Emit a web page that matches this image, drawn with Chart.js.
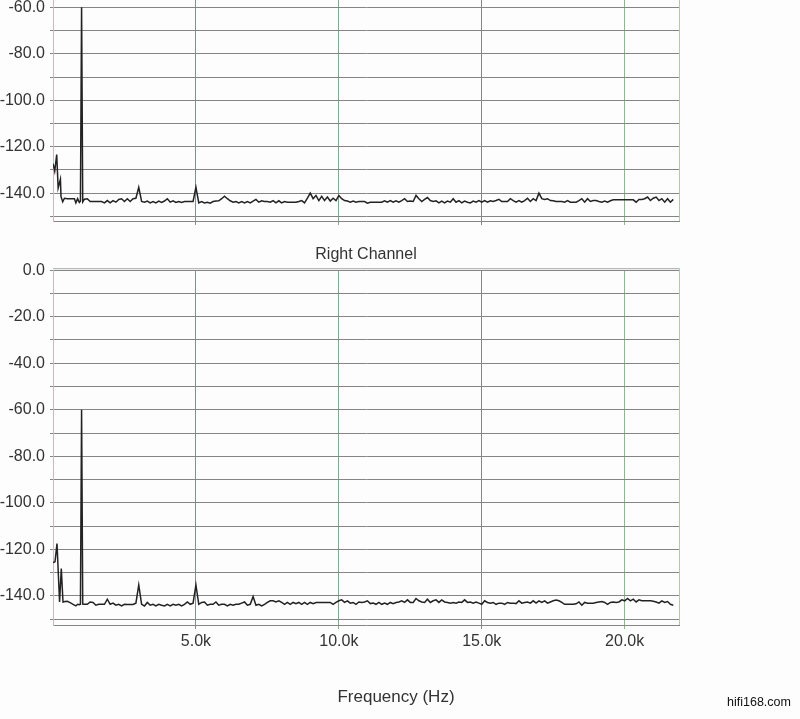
<!DOCTYPE html>
<html>
<head>
<meta charset="utf-8">
<title>FFT - Left / Right Channel</title>
<script src="https://cdn.jsdelivr.net/npm/chart.js@4.4.1/dist/chart.umd.min.js"></script>
<style>
  html, body { margin: 0; padding: 0; width: 800px; height: 719px; overflow: hidden; background: #fdfdfd; }
  body { position: relative; font-family: "Liberation Sans", Arial, Helvetica, sans-serif; color: #333; }
  #leftChart { position: absolute; left: 0; top: -153px; }
  #rightChart { position: absolute; left: 0; top: 240px; }
  #xTitle { position: absolute; left: 296px; width: 200px; top: 688px; text-align: center; font-size: 17px; line-height: 17px; }
  #mark { position: absolute; left: 727px; top: 695px; font-size: 12.5px; line-height: 14px; color: #111; }
</style>
</head>
<body>
<canvas id="leftChart" width="800" height="389"></canvas>
<canvas id="rightChart" width="800" height="479"></canvas>
<div id="xTitle">Frequency (Hz)</div>
<div id="mark">hifi168.com</div>

<script>
// axis ranges
const freqMinK = 0;
const freqMaxK = 21.9;
const leftLevelMin = -152;
const rightLevelMin = -152.5;

// noise floor is sampled in 0.1 kHz bins starting at 1.2 kHz
const noiseStartKHz = 1.2;
const binStepKHz = 0.1;

// left channel: low frequency part (kHz / dB)
const leftLowFreq  = [0, 0.03, 0.06, 0.13, 0.18, 0.26, 0.28, 0.34, 0.40, 0.51, 0.62, 0.75, 0.80, 0.86, 0.92, 0.96, 1.00, 1.04, 1.10];
const leftLowLevel = [-127.3, -127.3, -130.5, -123.4, -137.8, -134.0, -141.5, -143.7, -142.2, -142.4, -142.4, -142.4, -144.2, -142.4, -144.0, -143.5, -60.0, -143.8, -142.6];

// left channel: 1.2k .. 21.7k
const leftNoise = [
  -142.4, -143.6, -143.6, -143.6, -143.6, -143.6, -144.2, -143.2, -144.2, -143.2,
  -143.9, -142.7, -142.4, -143.6, -142.4, -143.6, -142.4, -142.2, -137.5, -143.6,
  -143.9, -143.4, -144.2, -143.6, -144.2, -143.4, -144.0, -143.4, -142.4, -143.9,
  -143.3, -144.0, -143.6, -144.0, -143.6, -143.6, -143.6, -143.6, -137.5, -144.2,
  -143.6, -144.2, -143.9, -144.3, -143.6, -143.4, -143.3, -142.4, -141.3, -142.4,
  -143.3, -143.9, -143.6, -144.2, -143.6, -144.2, -143.6, -144.2, -143.4, -142.7,
  -143.9, -143.3, -143.6, -143.6, -143.9, -143.2, -144.2, -143.3, -144.2, -143.6,
  -143.9, -143.9, -143.9, -143.9, -143.6, -143.2, -144.2, -142.2, -140.0, -142.4,
  -141.0, -143.2, -141.4, -143.2, -141.7, -143.4, -142.2, -143.2, -141.0, -142.4,
  -143.2, -143.4, -143.9, -143.4, -143.9, -143.6, -143.6, -143.6, -144.3, -143.9,
  -143.9, -143.9, -143.9, -143.9, -143.3, -143.9, -143.2, -143.9, -143.3, -143.9,
  -143.2, -142.4, -143.6, -143.4, -143.6, -141.0, -142.4, -143.6, -142.7, -141.9,
  -143.2, -143.6, -143.3, -144.2, -143.4, -144.2, -143.4, -143.9, -142.4, -143.9,
  -143.2, -144.2, -143.4, -143.9, -144.2, -143.4, -143.9, -143.2, -143.9, -143.2,
  -143.9, -143.3, -143.6, -143.2, -142.7, -143.6, -143.6, -143.6, -142.4, -143.2,
  -143.9, -143.2, -143.9, -143.2, -142.2, -143.6, -142.4, -143.2, -140.0, -142.4,
  -142.7, -142.4, -143.2, -143.3, -143.6, -143.6, -143.6, -143.9, -143.2, -143.9,
  -143.9, -143.9, -143.2, -142.4, -143.9, -142.4, -143.6, -143.2, -143.2, -143.6,
  -143.9, -143.4, -143.9, -143.3, -142.9, -142.9, -142.9, -142.9, -142.9, -142.9,
  -142.9, -142.9, -143.9, -142.7, -142.7, -142.4, -141.7, -143.2, -142.2, -141.7,
  -143.2, -142.4, -143.9, -142.4, -143.9, -142.7
];

// right channel: low frequency part (kHz / dB)
const rightLowFreq  = [0, 0.07, 0.14, 0.23, 0.29, 0.35, 0.42, 0.50, 0.60, 0.70, 0.80, 0.86, 0.92, 0.96, 1.00, 1.04, 1.10];
const rightLowLevel = [-125.7, -125.3, -117.5, -142.6, -128.2, -142.6, -142.4, -142.3, -142.9, -143.6, -144.3, -143.6, -143.8, -143.6, -60.0, -143.5, -143.6];

// right channel: 1.2k .. 21.7k
const rightNoise = [
  -143.6, -142.6, -142.8, -144.0, -143.6, -143.6, -143.6, -141.4, -143.6, -143.1,
  -144.0, -143.6, -144.3, -143.6, -143.7, -143.7, -143.7, -143.1, -135.3, -143.6,
  -144.3, -142.8, -144.0, -143.6, -144.3, -143.6, -144.0, -144.3, -143.6, -144.3,
  -143.6, -144.0, -143.6, -144.3, -143.6, -142.6, -143.6, -143.1, -135.3, -143.6,
  -142.8, -142.6, -144.0, -143.6, -143.6, -142.6, -144.0, -143.6, -143.6, -144.3,
  -143.6, -144.0, -143.6, -143.6, -143.1, -142.6, -144.0, -143.6, -140.3, -144.0,
  -143.6, -144.3, -143.6, -142.8, -142.1, -142.1, -142.6, -142.1, -142.8, -143.6,
  -142.8, -143.6, -142.8, -143.3, -142.8, -143.6, -142.8, -143.6, -142.8, -143.3,
  -142.8, -142.8, -142.8, -142.8, -142.8, -142.8, -143.6, -142.8, -142.1, -141.7,
  -142.8, -142.1, -143.1, -142.8, -143.6, -142.6, -142.8, -142.6, -142.1, -143.3,
  -143.1, -143.6, -142.8, -143.6, -143.1, -143.6, -142.8, -143.3, -142.8, -142.6,
  -142.1, -142.8, -141.7, -142.8, -142.8, -141.1, -142.1, -142.6, -142.8, -141.4,
  -142.8, -142.1, -141.7, -142.8, -141.7, -142.6, -142.8, -143.1, -142.8, -143.1,
  -142.6, -142.8, -141.7, -142.8, -142.6, -143.1, -142.6, -143.1, -143.6, -142.1,
  -142.8, -143.1, -142.8, -143.6, -143.1, -143.1, -143.6, -142.8, -143.1, -143.1,
  -143.3, -142.1, -143.1, -142.8, -142.6, -143.1, -142.1, -143.1, -142.1, -142.8,
  -142.1, -143.1, -142.6, -142.1, -141.8, -142.1, -142.8, -143.6, -143.6, -143.6,
  -143.6, -143.4, -142.6, -144.0, -142.8, -143.1, -143.1, -143.1, -142.8, -142.6,
  -142.4, -142.8, -143.6, -142.8, -142.6, -142.8, -142.6, -141.7, -142.1, -141.1,
  -142.1, -141.4, -142.6, -141.7, -142.1, -142.1, -142.1, -142.1, -142.3, -142.6,
  -143.1, -142.1, -142.8, -142.4, -143.6, -144.0
];

Chart.defaults.font.family = '"Liberation Sans", Arial, Helvetica, sans-serif';
Chart.defaults.font.size = 16;
Chart.defaults.color = '#333';

function buildPoints(lowFreq, lowLevel, noise) {
  let pts = lowFreq.map((f, i) => ({ x: f, y: lowLevel[i] }));
  noise.forEach((v, i) => {
    pts.push({ x: +(noiseStartKHz + i * binStepKHz).toFixed(1), y: v });
  });
  return pts;
}

// colours of the vertical grid lines (scan looks slightly tinted)
const vGridColor = { 5: '#7f8f96', 10: '#86a68e', 15: '#858585', 20: '#8fb68f' };

// right and top edge of the plot box
const framePlugin = {
  id: 'frame',
  beforeDatasetsDraw(chart) {
    const a = chart.chartArea;
    const ctx = chart.ctx;
    ctx.save();
    ctx.lineWidth = 1;
    ctx.strokeStyle = '#a9cfa9';
    ctx.beginPath();
    ctx.moveTo(a.right + 0.5, a.top - 2);
    ctx.lineTo(a.right + 0.5, a.bottom);
    ctx.stroke();
    ctx.strokeStyle = '#a8a8a8';
    ctx.beginPath();
    ctx.moveTo(a.left, a.top - 1.5);
    ctx.lineTo(a.right, a.top - 1.5);
    ctx.stroke();
    ctx.restore();
  }
};

function makeChart(id, points, levelMin, title, showX) {
  new Chart(document.getElementById(id), {
    type: 'line',
    data: {
      datasets: [{
        data: points,
        borderColor: '#222',
        borderWidth: 1.5,
        pointRadius: 0,
        tension: 0,
        fill: false
      }]
    },
    options: {
      responsive: false,
      animation: false,
      events: [],
      layout: { padding: { left: 0, right: 121, top: title ? 0 : 21, bottom: 0 } },
      plugins: {
        legend: { display: false },
        tooltip: { enabled: false },
        title: {
          display: !!title,
          text: title,
          fullSize: false,
          font: { size: 16, weight: 'normal' },
          color: '#333',
          padding: { top: 5, bottom: 6 }
        }
      },
      scales: {
        x: {
          type: 'linear',
          min: freqMinK,
          max: freqMaxK,
          afterFit(scale) { scale.height = showX ? 94 : 15; },
          border: { display: true, color: '#858585', width: 1 },
          grid: {
            color: c => (c.tick && vGridColor[c.tick.value]) || 'rgba(0,0,0,0)',
            lineWidth: 1,
            tickLength: 4
          },
          ticks: {
            display: showX,
            stepSize: 5,
            includeBounds: false,
            autoSkip: false,
            maxRotation: 0,
            padding: 3,
            callback: v => v === 0 ? '' : v.toFixed(1) + 'k'
          }
        },
        y: {
          min: levelMin,
          max: 0,
          afterFit(scale) { scale.width = 53; },
          border: { display: true, color: '#a5cbc3', width: 1 },
          grid: { color: '#858585', lineWidth: 1, tickLength: 3 },
          ticks: {
            stepSize: 10,
            includeBounds: false,
            autoSkip: false,
            padding: 5,
            callback: v => (Math.round(v) % 20 === 0) ? v.toFixed(1) : ''
          }
        }
      }
    },
    plugins: [framePlugin]
  });
}

makeChart('leftChart', buildPoints(leftLowFreq, leftLowLevel, leftNoise), leftLevelMin, '', false);
makeChart('rightChart', buildPoints(rightLowFreq, rightLowLevel, rightNoise), rightLevelMin, 'Right Channel', true);
</script>
</body>
</html>
